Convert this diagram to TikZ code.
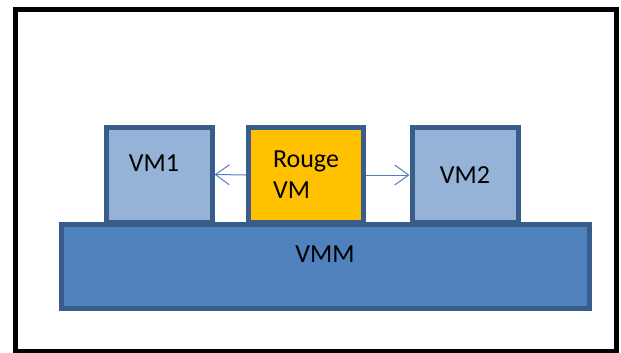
\documentclass[tikz,border=0pt]{standalone}
\usepackage{fontspec}
\setmainfont{Carlito}
\usetikzlibrary{arrows.meta}

\definecolor{vmfill}{HTML}{95B3D7}
\definecolor{vmmfill}{HTML}{4F81BD}
\definecolor{boxline}{HTML}{385D8A}
\definecolor{rougefill}{HTML}{FFC000}

\begin{document}
\begin{tikzpicture}[
    x=1pt, y=-1pt,
    box/.style={draw=boxline, line width=5pt, rectangle, inner sep=0pt, font=\fontsize{26}{31}\selectfont},
    vm/.style={box, fill=vmfill, minimum width=106pt, minimum height=95pt},
    hyper/.style={box, fill=vmmfill, minimum width=528pt, minimum height=84pt},
    rouge/.style={box, fill=rougefill, align=left, minimum width=115pt, minimum height=95pt},
    spread/.style={draw=vmmfill, line width=1pt, -{Straight Barb[length=14pt,width=20pt]}},
  ]
  \useasboundingbox (0,0) rectangle (621,353);
  \draw[line width=5pt] (15,10) rectangle (616,351);

  \node[vm, text depth=22pt] (vmone) at (159,174.5) {VM1\hspace*{10pt}};
  \node[rouge] (rougevm) at (306,175) {Rouge\\VM};
  \node[vm] (vmtwo) at (465,175) {VM2};
  \node[hyper, text depth=24pt] (vmm) at (325,266.5) {VMM};

  \draw[spread] (rougevm.west) -- (vmone.east);
  \draw[spread] (rougevm.east) -- (vmtwo.west);
\end{tikzpicture}
\end{document}
